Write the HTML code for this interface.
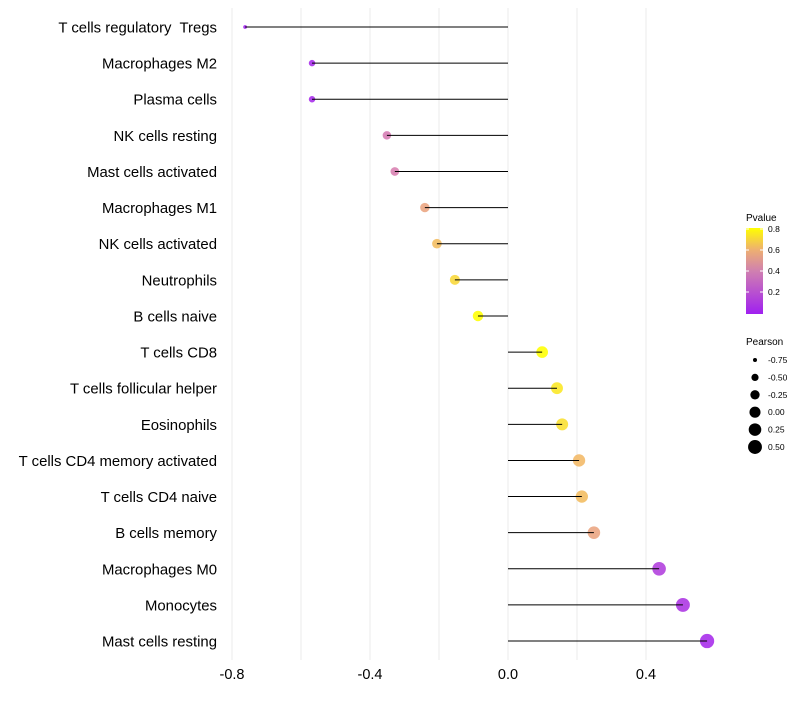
<!DOCTYPE html>
<html><head><meta charset="utf-8"><style>
body{margin:0;background:#fff;font-family:"Liberation Sans",sans-serif}
</style></head><body>
<svg id="c" width="800" height="700" xmlns="http://www.w3.org/2000/svg">
<defs><linearGradient id="pg" x1="0" y1="1" x2="0" y2="0">
<stop offset="0" stop-color="#a020f0"/><stop offset="0.5" stop-color="#d080b0"/><stop offset="0.75" stop-color="#eeb070"/><stop offset="1" stop-color="#ffff00"/></linearGradient></defs>
</svg>
<script>
const categories=["T cells regulatory  Tregs","Macrophages M2","Plasma cells","NK cells resting","Mast cells activated","Macrophages M1","NK cells activated","Neutrophils","B cells naive","T cells CD8","T cells follicular helper","Eosinophils","T cells CD4 memory activated","T cells CD4 naive","B cells memory","Macrophages M0","Monocytes","Mast cells resting"];
const pearson=[-0.762,-0.568,-0.568,-0.351,-0.328,-0.241,-0.206,-0.154,-0.087,0.099,0.142,0.157,0.206,0.214,0.249,0.438,0.507,0.577];
const pvalues=[0.0,0.04,0.04,0.38,0.4,0.55,0.63,0.7,0.82,0.8,0.74,0.72,0.62,0.63,0.55,0.12,0.08,0.04];
const xTicks=[-0.8,-0.4,0.0,0.4];
const gridMinor=[-0.6,-0.2,0.2];
const pLegend=[0.8,0.6,0.4,0.2];
const sizeLegend=[-0.75,-0.5,-0.25,0.0,0.25,0.5];
const NS="http://www.w3.org/2000/svg",svg=document.getElementById('c');
const x=v=>508+v*345, y=i=>27+i*36.12;
function el(t,a,p){const e=document.createElementNS(NS,t);for(const k in a)e.setAttribute(k,a[k]);(p||svg).appendChild(e);return e;}
const stops=[[0,[160,32,240]],[0.4,[216,128,176]],[0.6,[240,176,112]],[0.8,[255,255,0]]];
function col(p){p=Math.max(0,Math.min(0.8,p));for(let i=1;i<stops.length;i++){if(p<=stops[i][0]){const a=stops[i-1],b=stops[i],t=(p-a[0])/(b[0]-a[0]);return 'rgb('+a[1].map((c,j)=>Math.round(c+(b[1][j]-c)*t)).join(',')+')';}}return 'rgb(255,255,0)';}
const r=v=>Math.sqrt(3+Math.max(0,(v+0.78))/1.36*48);
[...xTicks,...gridMinor].forEach(t=>{const g=el('line',{x1:x(t),x2:x(t),y1:8,y2:660,stroke:'#ebebeb','stroke-width':1});
});
xTicks.forEach(t=>{const e=el('text',{x:x(t),y:679,'text-anchor':'middle','font-size':14.5,fill:'#000'});e.textContent=t.toFixed(1);
});
categories.forEach((c,i)=>{
const l=el('text',{x:217,y:y(i)+5.5,'text-anchor':'end','font-size':14.9,fill:'#000'});l.textContent=c;

l.style.whiteSpace='pre';
const d=el('circle',{cx:x(pearson[i]),cy:y(i),r:r(pearson[i]),fill:col(pvalues[i]),'fill-opacity':0.88});

const s=el('line',{x1:x(0),x2:x(pearson[i]),y1:y(i),y2:y(i),stroke:'#000','stroke-width':1});

});
const lt=el('text',{x:746,y:221,'font-size':10});lt.textContent='Pvalue';

const cb=el('rect',{x:746,y:228,width:17,height:86,fill:'url(#pg)'});

pLegend.forEach(p=>{const yy=313-p/0.8*84;const e=el('text',{x:768,y:yy+3,'font-size':8.5});e.textContent=p.toFixed(1);

el('line',{x1:746,x2:749,y1:yy,y2:yy,stroke:'#fff'});el('line',{x1:760,x2:763,y1:yy,y2:yy,stroke:'#fff'});});
const st=el('text',{x:746,y:345,'font-size':10});st.textContent='Pearson';

sizeLegend.forEach((v,i)=>{const yy=360+i*17.4;const d=el('circle',{cx:755,cy:yy,r:r(v),fill:'#000'});

const e=el('text',{x:768,y:yy+3,'font-size':8.5});e.textContent=v.toFixed(2);
});
</script>
</body></html>
